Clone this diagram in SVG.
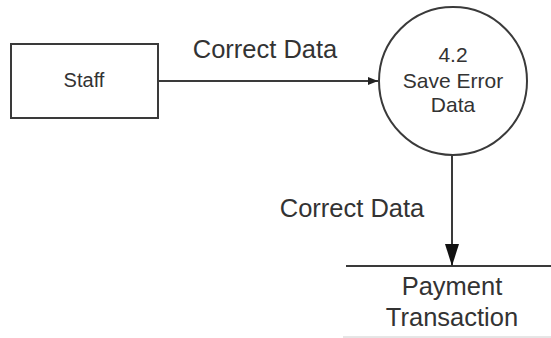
<svg xmlns="http://www.w3.org/2000/svg" width="551" height="338" viewBox="0 0 551 338">
<style>
.ln{stroke:#3a3a3a;stroke-width:2;fill:none}
.t{font-family:"Liberation Sans",Arial,sans-serif;fill:#333;text-anchor:middle}
</style>
<defs>
<marker id="ah" markerWidth="10" markerHeight="8" refX="10" refY="4" orient="auto" markerUnits="userSpaceOnUse">
<path d="M0,0 L10,4 L0,8 Z" fill="#222"/>
</marker>
<marker id="ah2" markerWidth="22" markerHeight="14" refX="22" refY="7" orient="auto" markerUnits="userSpaceOnUse">
<path d="M0,0 L22,7 L0,14 Z" fill="#111"/>
</marker>
</defs>
<rect width="551" height="338" fill="#fff"/>
<g id="staff">
<rect x="11" y="44" width="147" height="74" class="ln"/>
<text x="84" y="87" class="t" font-size="20">Staff</text>
</g>
<g id="process">
<circle cx="453" cy="81" r="74" class="ln"/>
<text x="453" y="62" class="t" font-size="21">4.2</text>
<text x="453" y="88" class="t" font-size="21">Save Error</text>
<text x="453" y="112" class="t" font-size="21">Data</text>
</g>
<g id="store">
<line x1="346" y1="266" x2="551" y2="266" class="ln"/>
<line x1="343" y1="337" x2="551" y2="337" stroke="#ccc" stroke-width="1"/>
<text x="452" y="295" class="t" font-size="25.5">Payment</text>
<text x="452" y="326" class="t" font-size="25.5">Transaction</text>
</g>
<g id="connectors">
<line x1="158" y1="81" x2="378" y2="81" class="ln" marker-end="url(#ah)"/>
<text x="265" y="58" class="t" font-size="25.5">Correct Data</text>
<line x1="452" y1="155" x2="452" y2="266" class="ln" marker-end="url(#ah2)"/>
<text x="352" y="217" class="t" font-size="25.5">Correct Data</text>
</g>
</svg>
